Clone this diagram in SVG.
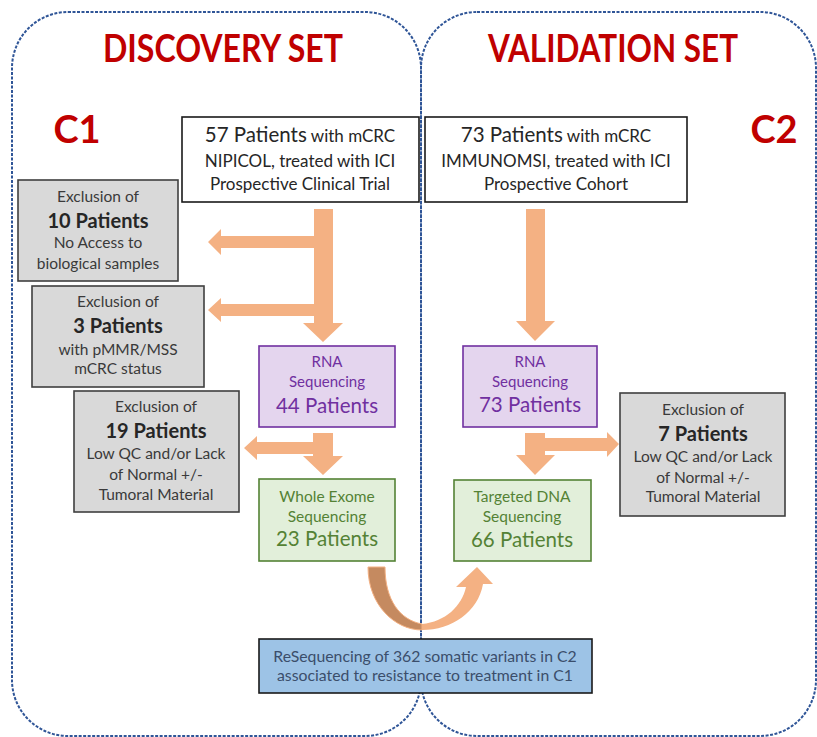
<svg xmlns="http://www.w3.org/2000/svg" width="817" height="737" viewBox="0 0 817 737">
<style>
.panel{fill:none;stroke:#2f5597;stroke-width:2;stroke-dasharray:3 1.5}
.title{font-family:Lato,"Liberation Sans",sans-serif;font-weight:bold;fill:#c00000;text-anchor:middle}
.t{font-family:Lato,"Liberation Sans",sans-serif;text-anchor:middle}
.box{fill:#ffffff;stroke:#1a1a1a;stroke-width:1.6}
.excl{fill:#d9d9d9;stroke:#3f3f3f;stroke-width:1.6}
.rna{fill:#e4d5ee;stroke:#7030a0;stroke-width:1.6}
.seq{fill:#e2efda;stroke:#548235;stroke-width:1.6}
.res{fill:#9dc3e6;stroke:#1a1a1a;stroke-width:1.6}
.dk{fill:#262626}
.gr{fill:#3a3a3a}
.pu{fill:#7030a0}
.gn{fill:#548235}
.bl{fill:#3b4e6b}
.arrow{fill:#f4b183}
.s{font-size:15px}
.m{font-size:15.5px}
.big{font-size:20.5px}
.bb{font-size:20px;font-weight:bold}
</style>
<rect width="817" height="737" fill="#ffffff"/>
<g id="panels">
<rect class="panel" x="12" y="12" width="409" height="724" rx="56" ry="56"/>
<rect class="panel" x="421" y="12" width="395" height="724" rx="56" ry="56"/>
</g>
<g id="titles">
<text class="title" x="223" y="62" font-size="38" textLength="240" lengthAdjust="spacingAndGlyphs">DISCOVERY SET</text>
<text class="title" x="613" y="62" font-size="38" textLength="250" lengthAdjust="spacingAndGlyphs">VALIDATION SET</text>
<text class="title" x="77" y="143" font-size="38">C1</text>
<text class="title" x="774" y="143" font-size="38">C2</text>
</g>
<g id="connectors">
<polygon class="arrow" points="314,209 333,209 333,323 343,323 323,342 303,323 314,323"/>
<polygon class="arrow" points="314,236 221,236 221,229 208,242 221,255 221,248 314,248"/>
<polygon class="arrow" points="314,304 221,304 221,298 208,310 221,322 221,316 314,316"/>
<polygon class="arrow" points="526,209 545,209 545,321 555,321 535,341 516,321 526,321"/>
<polygon class="arrow" points="313,433 333,433 333,456 343,456 323,475 303,456 313,456 313,454 257,454 257,460 244,448 257,436 257,442 313,442"/>
<polygon class="arrow" points="525,433 545,433 545,438 607,438 607,432 619,444 607,457 607,451 545,451 545,455 555,455 535,475 516,455 525,455"/>
<path d="M368,567 L385,567 C385,600 400,620 422,624 L422,630 C395,630 368,605 368,567 Z" fill="#c58a60" stroke="#f4b183" stroke-width="1"/>
<path class="arrow" d="M422,624 C445,622 462,606 466,587 L456,587 L477,567 L493,584 L483,584 C478,612 452,630 422,630 Z"/>
</g>
<g id="c1-cohort">
<rect class="box" x="182" y="117" width="237" height="85"/>
<text class="t dk" x="300" y="142" font-size="17"><tspan font-size="20.5">57 Patients</tspan> with mCRC</text>
<text class="t dk" x="300" y="167" font-size="17">NIPICOL, treated with ICI</text>
<text class="t dk" x="300" y="190" font-size="17">Prospective Clinical Trial</text>
</g>
<g id="c2-cohort">
<rect class="box" x="425" y="117" width="262" height="85"/>
<text class="t dk" x="556" y="142" font-size="17"><tspan font-size="20.5">73 Patients</tspan> with mCRC</text>
<text class="t dk" x="556" y="167" font-size="17">IMMUNOMSI, treated with ICI</text>
<text class="t dk" x="556" y="190" font-size="17">Prospective Cohort</text>
</g>
<g id="excl-10">
<rect class="excl" x="18" y="180" width="160" height="101"/>
<text class="t gr m" x="98" y="202">Exclusion of</text>
<text class="t dk bb" x="98" y="228">10 Patients</text>
<text class="t gr m" x="98" y="248">No Access to</text>
<text class="t gr m" x="98" y="269">biological samples</text>
</g>
<g id="excl-3">
<rect class="excl" x="32" y="286" width="172" height="101"/>
<text class="t gr m" x="118" y="307">Exclusion of</text>
<text class="t dk bb" x="118" y="333">3 Patients</text>
<text class="t gr m" x="118" y="355">with pMMR/MSS</text>
<text class="t gr m" x="118" y="374">mCRC status</text>
</g>
<g id="excl-19">
<rect class="excl" x="74" y="391" width="165" height="121"/>
<text class="t gr m" x="156" y="412">Exclusion of</text>
<text class="t dk bb" x="156" y="438">19 Patients</text>
<text class="t gr m" x="156" y="459">Low QC and/or Lack</text>
<text class="t gr m" x="156" y="480">of Normal +/-</text>
<text class="t gr m" x="156" y="500">Tumoral Material</text>
</g>
<g id="rna-c1">
<rect class="rna" x="259" y="346" width="136" height="81"/>
<text class="t pu s" x="327" y="367">RNA</text>
<text class="t pu s" x="327" y="387">Sequencing</text>
<text class="t pu big" x="327" y="413">44 Patients</text>
</g>
<g id="wes-c1">
<rect class="seq" x="259" y="479" width="136" height="82"/>
<text class="t gn m" x="327" y="502">Whole Exome</text>
<text class="t gn m" x="327" y="522">Sequencing</text>
<text class="t gn big" x="327" y="546">23 Patients</text>
</g>
<g id="rna-c2">
<rect class="rna" x="463" y="346" width="134" height="81"/>
<text class="t pu s" x="530" y="367">RNA</text>
<text class="t pu s" x="530" y="387">Sequencing</text>
<text class="t pu big" x="530" y="412">73 Patients</text>
</g>
<g id="tdna-c2">
<rect class="seq" x="454" y="480" width="137" height="81"/>
<text class="t gn m" x="522" y="502">Targeted DNA</text>
<text class="t gn m" x="522" y="522">Sequencing</text>
<text class="t gn big" x="522" y="547">66 Patients</text>
</g>
<g id="excl-7">
<rect class="excl" x="620" y="393" width="165" height="123"/>
<text class="t gr m" x="703" y="415">Exclusion of</text>
<text class="t dk bb" x="703" y="441">7 Patients</text>
<text class="t gr m" x="703" y="462">Low QC and/or Lack</text>
<text class="t gr m" x="703" y="483">of Normal +/-</text>
<text class="t gr m" x="703" y="502">Tumoral Material</text>
</g>
<g id="resequencing">
<rect class="res" x="259" y="639" width="333" height="54"/>
<text class="t bl" x="425" y="662" font-size="15.8">ReSequencing of 362 somatic variants in C2</text>
<text class="t bl" x="425" y="681" font-size="15.8">associated to resistance to treatment in C1</text>
</g>
</svg>
